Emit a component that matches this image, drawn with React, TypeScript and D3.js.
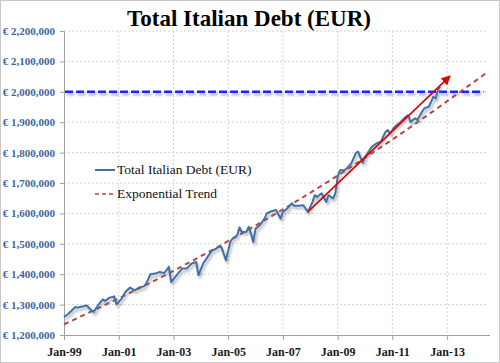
import * as d3 from 'd3';
import { useEffect, useRef } from 'react';

// monthly readings of total debt, EUR millions
const months = [
  '1999-01', '1999-03', '1999-06', '1999-07', '1999-09', '1999-11',
  '2000-01', '2000-02', '2000-04', '2000-06', '2000-07', '2000-09', '2000-11', '2000-12',
  '2001-02', '2001-04', '2001-06', '2001-08', '2001-10', '2001-12',
  '2002-01', '2002-03', '2002-05', '2002-07', '2002-09', '2002-11', '2002-12',
  '2003-03', '2003-05', '2003-07', '2003-09', '2003-11', '2003-12',
  '2004-02', '2004-04', '2004-06', '2004-07', '2004-09', '2004-10', '2004-12',
  '2005-01', '2005-02', '2005-03', '2005-05', '2005-06', '2005-07', '2005-09', '2005-10', '2005-11', '2005-12',
  '2006-01', '2006-03', '2006-05', '2006-06', '2006-08', '2006-10', '2006-12',
  '2007-01', '2007-03', '2007-05', '2007-06', '2007-08', '2007-10', '2007-12',
  '2008-02', '2008-03', '2008-04', '2008-06', '2008-08', '2008-09', '2008-11', '2008-12',
  '2009-01', '2009-02', '2009-04', '2009-05', '2009-07', '2009-09', '2009-10', '2009-12',
  '2010-01', '2010-02', '2010-04', '2010-06', '2010-08', '2010-10', '2010-11', '2010-12',
  '2011-02', '2011-04', '2011-07', '2011-08', '2011-09', '2011-11', '2011-12',
  '2012-02', '2012-03', '2012-05', '2012-06', '2012-07', '2012-08', '2012-09', '2012-10',
];
const debt = [
  1259000, 1270000, 1292000, 1290000, 1294000, 1297000,
  1281000, 1276000, 1298000, 1317000, 1312000, 1323000, 1327000, 1301000,
  1317000, 1342000, 1356000, 1347000, 1356000, 1360000,
  1369000, 1400000, 1402000, 1407000, 1404000, 1424000, 1374000,
  1402000, 1419000, 1419000, 1435000, 1440000, 1397000,
  1435000, 1457000, 1479000, 1481000, 1490000, 1490000, 1446000,
  1478000, 1508000, 1517000, 1528000, 1554000, 1539000, 1539000, 1556000, 1534000, 1506000,
  1550000, 1561000, 1583000, 1600000, 1607000, 1611000, 1583000,
  1605000, 1616000, 1633000, 1625000, 1625000, 1627000, 1605000,
  1638000, 1660000, 1654000, 1666000, 1638000, 1660000, 1649000, 1666000,
  1720000, 1742000, 1742000, 1748000, 1764000, 1799000, 1803000, 1766000,
  1786000, 1797000, 1819000, 1830000, 1836000, 1868000, 1874000, 1863000,
  1885000, 1896000, 1918000, 1923000, 1901000, 1913000, 1907000,
  1934000, 1945000, 1951000, 1967000, 1984000, 1978000, 2006000, 2017000,
];

// exponential trend
const trendMonths = ['1999-01', '2003-01', '2007-01', '2011-01', '2014-07'];
const trendValues = [1235000, 1411000, 1613000, 1843000, 2066000];

const arrowMonths = ['2007-12', '2013-02'];
const arrowValues = [1605000, 2050000];

const threshold = 2000000;

const yTicks = [1200000, 1300000, 1400000, 1500000, 1600000, 1700000, 1800000, 1900000, 2000000, 2100000, 2200000];
const xTickYears = [1999, 2001, 2003, 2005, 2007, 2009, 2011, 2013];

const title = 'Total Italian Debt (EUR)';
const seriesName = 'Total Italian Debt (EUR)';
const trendName = 'Exponential Trend';

const W = 500;
const H = 363;

export default function App() {
  const svgRef = useRef<SVGSVGElement>(null);

  useEffect(() => {
    drawChart(svgRef.current!);
  }, []);

  return (
    <div style={{ position: 'absolute', left: 0, top: 0 }}>
      <svg ref={svgRef} width={W} height={H} style={{ display: 'block' }}></svg>
    </div>
  );
}

function drawChart(el: SVGSVGElement) {
  const parse = d3.timeParse('%Y-%m');
  const svg = d3.select(el);
  svg.selectAll('*').remove();

  const left = 64, right = 488, top = 31, bottom = 335;

  const x = d3.scaleTime()
    .domain([new Date(1999, 0, 1), new Date(2014, 6, 1)])
    .range([left, right]);
  const y = d3.scaleLinear()
    .domain([1200000, 2200000])
    .range([bottom, top]);

  const defs = svg.append('defs');
  // user space region so the flat horizontal line still gets its shadow
  const sh = defs.append('filter').attr('id', 'shadow')
    .attr('filterUnits', 'userSpaceOnUse')
    .attr('x', 0).attr('y', 0).attr('width', W).attr('height', H);
  sh.append('feDropShadow')
    .attr('dx', 1.5).attr('dy', 2.5).attr('stdDeviation', 1)
    .attr('flood-color', '#666').attr('flood-opacity', 0.5);

  defs.append('marker')
    .attr('id', 'arrowhead')
    .attr('viewBox', '0 0 10 10')
    .attr('refX', 8).attr('refY', 5)
    .attr('markerWidth', 6).attr('markerHeight', 6)
    .attr('markerUnits', 'strokeWidth')
    .attr('orient', 'auto')
    .append('path')
    .attr('d', 'M0,0 L10,5 L0,10 z')
    .attr('fill', '#e00000');

  svg.append('rect')
    .attr('x', 0.5).attr('y', 0.5)
    .attr('width', W - 1).attr('height', H - 1)
    .attr('fill', '#fff').attr('stroke', '#c8c8c8');

  // grid
  svg.append('g')
    .selectAll('line')
    .data(yTicks.slice(1))
    .enter()
    .append('line')
    .attr('x1', left).attr('x2', right)
    .attr('y1', d => y(d)).attr('y2', d => y(d))
    .attr('stroke', '#d2d2d2')
    .attr('stroke-dasharray', '2,2');

  svg.append('g')
    .selectAll('line')
    .data(xTickYears.slice(1))
    .enter()
    .append('line')
    .attr('x1', d => x(new Date(d, 0, 1))).attr('x2', d => x(new Date(d, 0, 1)))
    .attr('y1', top).attr('y2', bottom)
    .attr('stroke', '#d2d2d2')
    .attr('stroke-dasharray', '2,2');

  // axes
  const yAxis = d3.axisLeft(y)
    .tickValues(yTicks)
    .tickSize(4)
    .tickPadding(5)
    .tickFormat(d => '€ ' + d3.format(',')(d as number));

  const gy = svg.append('g')
    .attr('transform', `translate(${left},0)`)
    .call(yAxis);
  gy.select('.domain').attr('stroke', '#a0a0a0');
  gy.selectAll('.tick line').attr('stroke', '#a0a0a0');
  gy.selectAll('text')
    .attr('font-family', '"Liberation Serif", serif')
    .attr('font-size', 11)
    .attr('font-weight', 'bold')
    .attr('fill', '#41659c');

  const xAxis = d3.axisBottom(x)
    .tickValues(xTickYears.map(yr => new Date(yr, 0, 1)))
    .tickSize(5)
    .tickPadding(7)
    .tickSizeOuter(0)
    .tickFormat(d => d3.timeFormat('Jan-%y')(d as Date));

  const gx = svg.append('g')
    .attr('transform', `translate(0,${bottom})`)
    .call(xAxis);
  gx.select('.domain').attr('stroke', '#a0a0a0').attr('d', `M${left},0.5H${right + 2}`);
  gx.selectAll('.tick line').attr('stroke', '#a0a0a0');
  gx.selectAll('text')
    .attr('font-family', '"Liberation Serif", serif')
    .attr('font-size', 12)
    .attr('font-weight', 'bold')
    .attr('fill', '#1a1a1a');

  // 2 trillion threshold
  svg.append('line')
    .attr('x1', left + 1).attr('x2', x(new Date(2014, 4, 1)))
    .attr('y1', y(threshold)).attr('y2', y(threshold))
    .attr('stroke', '#1428ff')
    .attr('stroke-width', 2.5)
    .attr('stroke-dasharray', '8,3')
    .attr('filter', 'url(#shadow)');

  // trend
  const trend = trendMonths.map((m, i) => ({ date: parse(m)!, value: trendValues[i] }));
  svg.append('path')
    .datum(trend)
    .attr('d', d3.line<{ date: Date; value: number }>()
      .x(d => x(d.date)).y(d => y(d.value))
      .curve(d3.curveMonotoneX))
    .attr('fill', 'none')
    .attr('stroke', '#b04848')
    .attr('stroke-width', 2)
    .attr('stroke-dasharray', '5,4');

  // series
  const series = months.map((m, i) => ({ date: parse(m)!, value: debt[i] }));
  svg.append('path')
    .datum(series)
    .attr('d', d3.line<{ date: Date; value: number }>()
      .x(d => x(d.date)).y(d => y(d.value)))
    .attr('fill', 'none')
    .attr('stroke', '#4170a8')
    .attr('stroke-width', 2)
    .attr('stroke-linejoin', 'round')
    .attr('filter', 'url(#shadow)');

  // arrow
  svg.append('line')
    .attr('x1', x(parse(arrowMonths[0])!)).attr('y1', y(arrowValues[0]))
    .attr('x2', x(parse(arrowMonths[1])!)).attr('y2', y(arrowValues[1]))
    .attr('stroke', '#e00000')
    .attr('stroke-width', 1.6)
    .attr('marker-end', 'url(#arrowhead)');

  // title
  svg.append('text')
    .attr('x', 249).attr('y', 26)
    .attr('text-anchor', 'middle')
    .attr('font-family', '"Liberation Serif", serif')
    .attr('font-size', 23)
    .attr('font-weight', 'bold')
    .attr('fill', '#000')
    .text(title);

  // legend
  const lg = svg.append('g').attr('transform', 'translate(95,0)');
  lg.append('line')
    .attr('x1', 0).attr('x2', 20).attr('y1', 170).attr('y2', 170)
    .attr('stroke', '#4170a8').attr('stroke-width', 2);
  lg.append('text')
    .attr('x', 22).attr('y', 174)
    .attr('font-family', '"Liberation Serif", serif')
    .attr('font-size', 13.5)
    .attr('fill', '#111')
    .text(seriesName);
  lg.append('line')
    .attr('x1', 0).attr('x2', 20).attr('y1', 194).attr('y2', 194)
    .attr('stroke', '#b04848').attr('stroke-width', 1.5)
    .attr('stroke-dasharray', '4,3');
  lg.append('text')
    .attr('x', 22).attr('y', 198)
    .attr('font-family', '"Liberation Serif", serif')
    .attr('font-size', 13.5)
    .attr('fill', '#111')
    .text(trendName);
}
